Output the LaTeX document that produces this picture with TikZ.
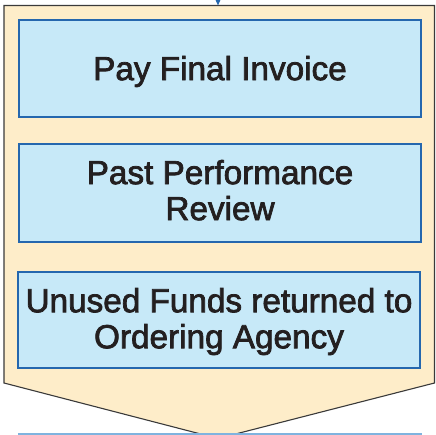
\documentclass[tikz,border=0pt]{standalone}
\usepackage{fontspec}
\setmainfont{Liberation Sans}
\newfontfamily\stagefont[FakeBold=2.2]{Liberation Sans}
\usetikzlibrary{arrows.meta}
\definecolor{creamfill}{HTML}{FEEDC9}
\definecolor{boxfill}{HTML}{C7E9F8}
\definecolor{boxline}{HTML}{2567AE}
\definecolor{nextline}{HTML}{7FB3DF}
\definecolor{outline}{HTML}{3A3A3A}
\definecolor{inktext}{HTML}{231F20}
\tikzset{
  stagebox/.style={draw=boxline, fill=boxfill, line width=1.1pt, rectangle,
    minimum width=402pt, inner sep=0pt, outer sep=0pt},
  stagetext/.style={text=inktext, align=center, inner sep=0pt,
    font=\stagefont\fontsize{33.3}{36}\selectfont},
  chevron/.style={draw=outline, fill=creamfill, line width=1.1pt, line join=miter},
  flowarrow/.style={draw=boxline, line width=1.2pt, -{Triangle[length=6pt,width=5pt]}}
}
\begin{document}
\begin{tikzpicture}[x=1pt,y=-1pt]
  \useasboundingbox (0,0) rectangle (436,435);
  \clip (0,0) rectangle (436,435);
  % outer chevron shape
  \draw[chevron] (4,5.5) -- (434.5,5.5) -- (434.5,383) -- (218,438.5) -- (4,383) -- cycle;
  % incoming arrow from the previous stage
  \coordinate (inflow) at (218,-20);
  \coordinate (chevtop) at (218,5.5);
  \draw[flowarrow] (inflow) -- (chevtop);
  % stage boxes
  \node[stagebox, minimum height=97pt] (b1) at (220,68.5) {};
  \node[stagebox, minimum height=98pt] (b2) at (220,193) {};
  \node[stagebox, minimum height=96pt] (b3) at (219,320) {};
  % top edge of the following stage
  \node[stagebox, draw=nextline, minimum height=40pt, anchor=north] (b4) at (220,434) {};
  % labels
  \node[stagetext] (t1) at (220,71.5) {Pay Final Invoice};
  \node[stagetext] (t2) at (220,190.2) {Past Performance\\Review};
  \node[stagetext] (t3) at (219,321.6) {Unused Funds returned to\\Ordering Agency};
\end{tikzpicture}
\end{document}
